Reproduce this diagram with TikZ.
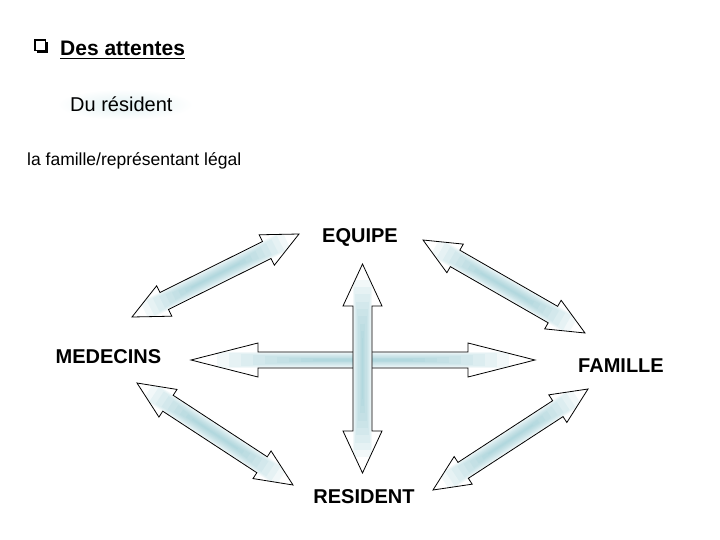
\documentclass[tikz,border=0pt]{standalone}
\usepackage{fontspec}
\setmainfont{Liberation Sans}
\usetikzlibrary{calc}
\definecolor{glowc}{RGB}{140,200,208}
\tikzset{
  outline/.style={draw=black, line width=0.8pt, line join=miter},
  lbl/.style={inner sep=0pt, anchor=base, font=\fontsize{20}{24}\selectfont\bfseries},
  txt/.style={inner sep=0pt, anchor=base west},
}
\newcommand\blockarrow[5]{% #1 start, #2 end, #3 shaft half width, #4 head half width, #5 head length
  \coordinate (#1h) at ($(#1)!#5!(#2)$);
  \coordinate (#2h) at ($(#2)!#5!(#1)$);
  \def\bapath{(#1) -- ($(#1h)!#4!90:(#2)$) -- ($(#1h)!#3!90:(#2)$) -- ($(#2h)!#3!-90:(#1)$) -- ($(#2h)!#4!-90:(#1)$) -- (#2) -- ($(#2h)!#4!90:(#1)$) -- ($(#2h)!#3!90:(#1)$) -- ($(#1h)!#3!-90:(#2)$) -- ($(#1h)!#4!-90:(#2)$) -- cycle}
  \fill[white] \bapath;
  \begin{scope}
    \clip \bapath;
    \foreach \i in {1,...,9}{
      \draw[glowc, opacity=0.11, line width={(2.3-0.24*\i)*#3}, line cap=butt]
        ($(#1)!{0.04+0.035*\i}!(#2)$) -- ($(#1)!{0.96-0.035*\i}!(#2)$);
    }
  \end{scope}
  \draw[outline] \bapath;
}
\begin{document}
\begin{tikzpicture}[x=1pt,y=-1pt]
\useasboundingbox (0,0) rectangle (720,540);
\fill[white] (0,0) rectangle (720,540);

% title
\draw[line width=1.2pt] (35,40) rectangle (45.5,50.5);
\fill (37,51) rectangle (48,53);
\fill (46,42) rectangle (48,53);
\node[txt, font=\fontsize{21}{25}\selectfont\bfseries] (title) at (60,56) {Des attentes};
\draw[line width=1.3pt] ([yshift=-2.5pt]title.base west) -- ([yshift=-2.5pt]title.base east);

% Du resident
\shade[inner color=glowc!25, outer color=white] (57,89) rectangle (193,120);
\node[txt, font=\fontsize{20}{24}\selectfont] (dures) at (70,112) {Du résident};
\node[txt, font=\fontsize{17.5}{21}\selectfont] (fam) at (27,166) {la famille/représentant légal};

% labels
\node[lbl] (equipe) at (360,243) {EQUIPE};
\node[lbl] (medecins) at (108.5,363) {MEDECINS};
\node[lbl] (famille) at (621,372) {FAMILLE};
\node[lbl] (resident) at (364,503) {RESIDENT};

% arrow end points
\coordinate (ulA) at (132,317); \coordinate (ulB) at (299,234);
\coordinate (urA) at (423,240); \coordinate (urB) at (585,333);
\coordinate (llA) at (137,383); \coordinate (llB) at (293,485);
\coordinate (lrA) at (433,490); \coordinate (lrB) at (588,389);
\coordinate (hA) at (191,360); \coordinate (hB) at (535,360);
\coordinate (vA) at (362.5,264); \coordinate (vB) at (362.5,473);

\blockarrow{ulA}{ulB}{9.5pt}{17pt}{36pt}
\blockarrow{urA}{urB}{9.5pt}{16.5pt}{37pt}
\blockarrow{llA}{llB}{9.5pt}{16.5pt}{37pt}
\blockarrow{lrA}{lrB}{9.5pt}{16.5pt}{36pt}
\blockarrow{hA}{hB}{8pt}{17pt}{67pt}
\blockarrow{vA}{vB}{9.5pt}{19.5pt}{42pt}
\end{tikzpicture}
\end{document}
